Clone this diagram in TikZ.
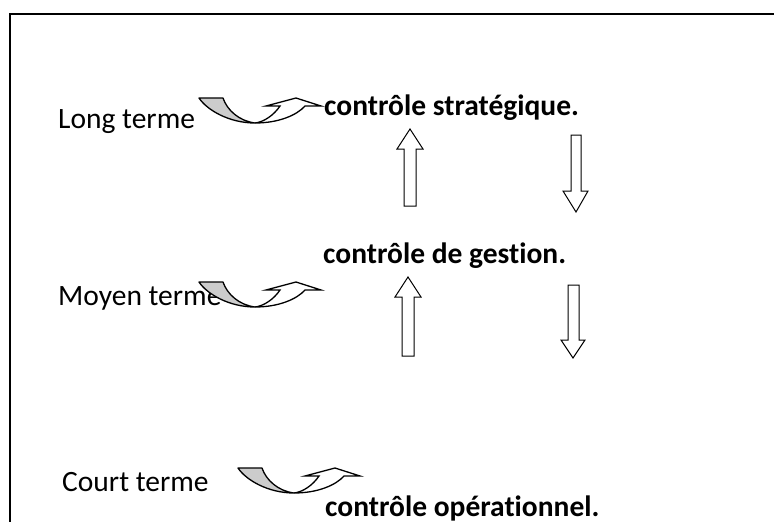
\documentclass[tikz,border=0pt]{standalone}
\usepackage{fontspec}
\setmainfont[Ligatures={NoCommon}]{Carlito}
\tikzset{
  lbl/.style={anchor=base west, inner sep=0pt, font=\fontsize{29.5}{35}\selectfont},
  ctl/.style={anchor=base west, inner sep=0pt, font=\fontsize{29.5}{35}\selectfont\bfseries},
  blockarrow/.style={draw=black, line width=1pt, fill=white, line join=miter},
  frameline/.style={draw=black, line width=2pt},
  curvarr/.pic={
    \filldraw[fill=gray!40, draw=black, line width=1.3pt, line join=round]
      (0,0) .. controls (8,12) and (30,25) .. (56,25)
      .. controls (40,23) and (28,12) .. (24,0) -- cycle;
    \filldraw[fill=white, draw=black, line width=1.3pt, line join=miter]
      (56,25) .. controls (80,25) and (98,17) .. (106,8) -- (122,8) -- (97,0)
      -- (67,8) -- (81,8) .. controls (75,17) and (65,24) .. (56,25) -- cycle;
  }
}
\begin{document}
\begin{tikzpicture}[x=1pt,y=-1pt]
\useasboundingbox (0,0) rectangle (774,522);
\clip (0,0) rectangle (774,522);
\fill[white] (0,0) rectangle (774,522);
% frame
\draw[frameline] (10,560) -- (10,14) -- (800,14);
% labels
\node[lbl] (lt) at (58,128) {Long terme};
\node[lbl] (mt) at (58,305) {Moyen terme};
\node[lbl] (ct) at (62,491) {Court terme};
% controls
\node[ctl] (cs) at (324,115) {contrôle stratégique.};
\node[ctl] (cg) at (323,263) {contrôle de gestion.};
\node[ctl] (co) at (325,516) {contrôle opérationnel.};
% curved arrows
\pic at (199,98) {curvarr};
\pic at (199,282) {curvarr};
\pic at (238,468) {curvarr};
% block arrows
\draw[blockarrow] (404,206) -- (404,149) -- (397,149) -- (410,129) -- (423,149) -- (416,149) -- (416,206) -- cycle;
\draw[blockarrow] (571,135) -- (571,191) -- (563,191) -- (576,212) -- (588,191) -- (581,191) -- (581,135) -- cycle;
\draw[blockarrow] (402,356) -- (402,297) -- (395,297) -- (408,277) -- (421,297) -- (414,297) -- (414,356) -- cycle;
\draw[blockarrow] (568,285) -- (568,340) -- (561,340) -- (573,358) -- (585,340) -- (579,340) -- (579,285) -- cycle;
\end{tikzpicture}
\end{document}
